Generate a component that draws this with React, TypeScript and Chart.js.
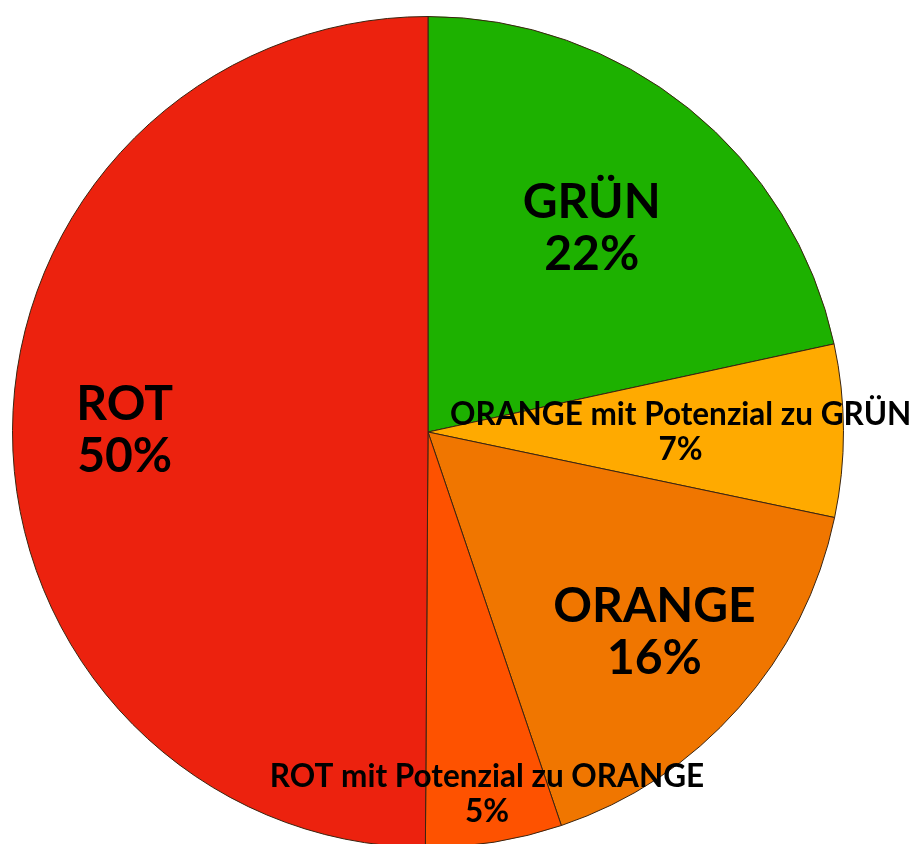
import React, { useEffect, useRef } from "react";
import { Chart, registerables } from "chart.js";

Chart.register(...registerables);

const categories = [
  "GRÜN",
  "ORANGE mit Potenzial zu GRÜN",
  "ORANGE",
  "ROT mit Potenzial zu ORANGE",
  "ROT",
];
const values = [21.6, 6.7, 16.5, 5.3, 49.9];
const percentLabels = ["22%", "7%", "16%", "5%", "50%"];
const colors = ["#1DB100", "#FFAA00", "#F07600", "#FE5200", "#EC220E"];
// label offsets relative to pie centre, in units of radius
const labelOffsets = [
  [0.394, -0.49],
  [0.608, 0.0],
  [0.545, 0.482],
  [0.142, 0.873],
  [-0.73, -0.003],
];
const bigLabel = [true, false, true, false, true];

const labelPlugin = {
  id: "sliceLabels",
  afterDatasetsDraw(chart: any) {
    const ctx = chart.ctx;
    const meta = chart.getDatasetMeta(0);
    const arc0 = meta.data[0];
    const cx = arc0.x;
    const cy = arc0.y;
    const r = arc0.outerRadius;
    ctx.save();
    ctx.fillStyle = "#000";
    ctx.textAlign = "center";
    ctx.textBaseline = "middle";
    categories.forEach((name, i) => {
      const [ox, oy] = labelOffsets[i];
      const x = cx + ox * r;
      const y = cy + oy * r;
      const big = bigLabel[i];
      const size = big ? 48 : 31.5;
      const gap = big ? 26 : 17.5;
      ctx.font = `bold ${size}px Lato, "Open Sans", sans-serif`;
      ctx.fillText(name, x, y - gap);
      ctx.fillText(percentLabels[i], x, y + gap);
    });
    ctx.restore();
  },
};

export default function App() {
  const ref = useRef<HTMLCanvasElement>(null);
  useEffect(() => {
    if (!ref.current) return;
    const chart = new Chart(ref.current, {
      type: "pie",
      data: {
        labels: categories,
        datasets: [
          {
            data: values,
            backgroundColor: colors,
            borderColor: "#3a2410",
            borderWidth: 1,
          },
        ],
      },
      options: {
        animation: false,
        responsive: false,
        layout: { padding: { left: 12, right: 72, top: 16, bottom: 16 } },
        plugins: {
          legend: { display: false },
          tooltip: { enabled: false },
        },
      },
      plugins: [labelPlugin],
    });
    return () => chart.destroy();
  }, []);
  return (
    <div style={{ position: "absolute", left: 0, top: 0, width: 916, height: 844, overflow: "hidden" }}>
      <canvas ref={ref} width={916} height={864} style={{ display: "block" }} />
    </div>
  );
}
